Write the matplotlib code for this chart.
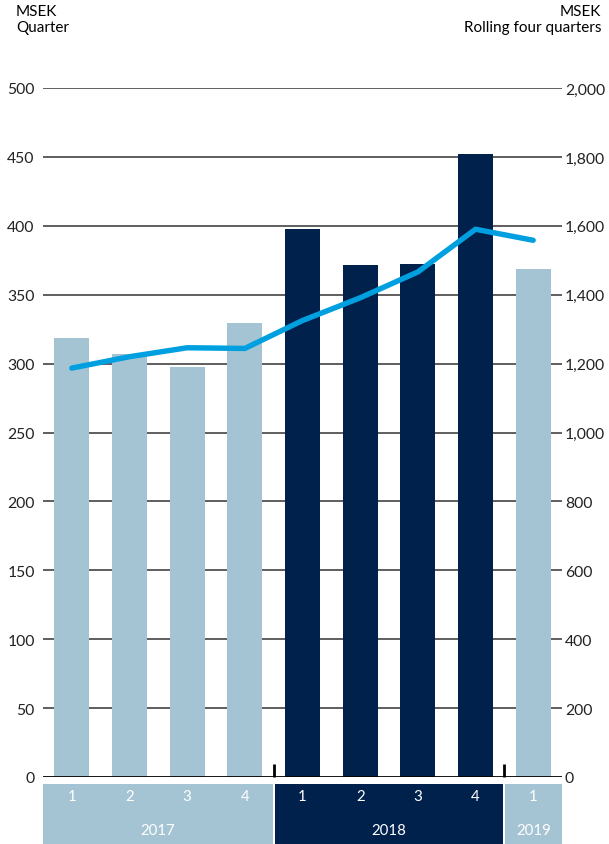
import matplotlib
matplotlib.use("Agg")
import matplotlib.pyplot as plt
from matplotlib.patches import Rectangle

plt.rcParams['font.family'] = ['Lato', 'DejaVu Sans']

# Quarterly figures (MSEK) and rolling four-quarter totals
quarters = ["1", "2", "3", "4", "1", "2", "3", "4", "1"]
years = ["2017", "2018", "2019"]
year_spans = [(0, 3), (4, 7), (8, 8)]
quarter_values = [318.6, 307.0, 297.5, 329.5, 397.7, 371.6, 372.3, 452.1, 368.6]
rolling_values = [1187, 1220, 1246, 1244, 1325, 1391, 1466, 1590, 1558]
bar_year = [0, 0, 0, 0, 1, 1, 1, 1, 2]

left_ticks = [0, 50, 100, 150, 200, 250, 300, 350, 400, 450, 500]
right_ticks = [0, 200, 400, 600, 800, 1000, 1200, 1400, 1600, 1800, 2000]

LIGHT = "#a4c4d3"
NAVY = "#00214c"
LINE = "#00a0e0"
year_colors = [LIGHT, NAVY, LIGHT]

W, H = 609, 845
fig = plt.figure(figsize=(W / 100, H / 100), dpi=100)

ax_l, ax_r = 43 / W, 562 / W
ax_b, ax_t = (H - 778) / H, (H - 89) / H
ax = fig.add_axes([ax_l, ax_b, ax_r - ax_l, ax_t - ax_b])
ax2 = ax.twinx()

x = list(range(len(quarter_values)))
ax.set_xlim(-0.5, len(x) - 0.5)
ax.set_ylim(0, 500)
ax2.set_ylim(0, 2000)

for v in left_ticks[1:]:
    ax.axhline(v, color="#333333", lw=1.1, zorder=0)
ax.axhline(0, color="black", lw=2.0, zorder=3)

ax.bar(x, quarter_values, width=0.61,
       color=[year_colors[i] for i in bar_year], zorder=2)

ax2.plot(x, rolling_values, color=LINE, lw=3.9, solid_capstyle="round",
         solid_joinstyle="round", zorder=4)

# year dividers on the baseline
for xd in (3.5, 7.5):
    ax.plot([xd, xd], [0, 9.5], color="black", lw=2.0, zorder=3,
            clip_on=False, solid_capstyle="butt")

ax.set_yticks(left_ticks)
ax.set_yticklabels([f"{v:,}" for v in left_ticks])
ax2.set_yticks(right_ticks)
ax2.set_yticklabels([f"{v:,}" for v in right_ticks])
ax.set_xticks([])
for a in (ax, ax2):
    for s in a.spines.values():
        s.set_visible(False)
ax.tick_params(axis="y", length=0, pad=6, labelsize=11.3, colors="#222222")
ax2.tick_params(axis="y", length=0, pad=2, labelsize=11.3, colors="#222222")

# category table under the plot
tab = fig.add_axes([ax_l, 0, ax_r - ax_l, (H - 785) / H])
tab.set_xlim(-0.5, len(x) - 0.5)
tab.set_ylim(0, 1)
tab.axis("off")
gap = 1.0 / 57.5
for (i0, i1), label, col in zip(year_spans, years, year_colors):
    x0 = i0 - 0.5 + (gap if i0 > 0 else 0)
    x1 = i1 + 0.5 - (gap if i1 < len(x) - 1 else 0)
    tab.add_patch(Rectangle((x0, 0), x1 - x0, 1, color=col, lw=0))
    tab.text((x0 + x1) / 2, 0.23, label, ha="center", va="center",
             color="white", fontsize=10.8)
for i, q in enumerate(quarters):
    tab.text(i, 0.8, q, ha="center", va="center", color="white", fontsize=10.8)

# unit labels
fig.text(16 / W, 1 - 12 / H, "MSEK", ha="left", va="center", fontsize=11)
fig.text(16 / W, 1 - 28 / H, "Quarter", ha="left", va="center", fontsize=11)
fig.text(601 / W, 1 - 12 / H, "MSEK", ha="right", va="center", fontsize=11)
fig.text(601 / W, 1 - 28 / H, "Rolling four quarters", ha="right",
         va="center", fontsize=11)

fig.savefig("out.png", dpi=100)
